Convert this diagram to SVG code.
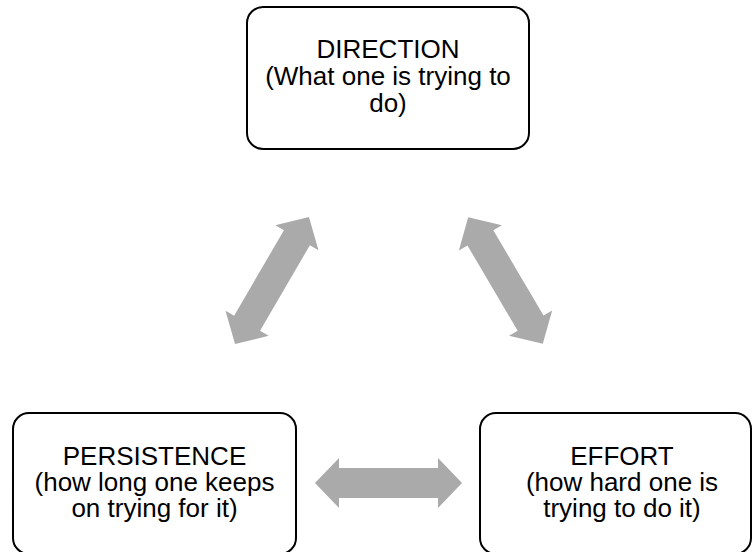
<svg xmlns="http://www.w3.org/2000/svg" width="753" height="552" viewBox="0 0 753 552">
<style>
.box{fill:#ffffff;stroke:#000000;stroke-width:2}
.lbl{font-family:"Liberation Sans",Arial,sans-serif;font-size:26px;fill:#000000;text-anchor:middle}
.arr{fill:#aaaaaa;stroke:none}
</style>
<defs>
<path id="dbl" d="M -73.5 0 L -49.5 -25 L -49.5 -15 L 49.5 -15 L 49.5 -25 L 73.5 0 L 49.5 25 L 49.5 15 L -49.5 15 L -49.5 25 Z"/>
</defs>
<rect width="753" height="552" fill="#ffffff"/>
<g id="connectors">
<use href="#dbl" class="arr" transform="translate(272 280.5) rotate(-59.8)"/>
<use href="#dbl" class="arr" transform="translate(505.5 280.5) rotate(59.5)"/>
<use href="#dbl" class="arr" transform="translate(388.5 483)"/>
</g>
<g id="direction">
<rect class="box" x="247" y="7" width="282" height="142" rx="16" ry="16"/>
<text class="lbl" x="388" y="58">DIRECTION<tspan x="388" dy="27">(What one is trying to</tspan><tspan x="388" dy="27">do)</tspan></text>
</g>
<g id="persistence">
<rect class="box" x="13" y="413" width="283" height="141" rx="16" ry="16"/>
<text class="lbl" x="154.5" y="465">PERSISTENCE<tspan x="154.5" dy="26">(how long one keeps</tspan><tspan x="154.5" dy="26">on trying for it)</tspan></text>
</g>
<g id="effort">
<rect class="box" x="480" y="413" width="271" height="141" rx="16" ry="16"/>
<text class="lbl" x="622" y="465">EFFORT<tspan x="622" dy="26">(how hard one is</tspan><tspan x="622" dy="26">trying to do it)</tspan></text>
</g>
</svg>
